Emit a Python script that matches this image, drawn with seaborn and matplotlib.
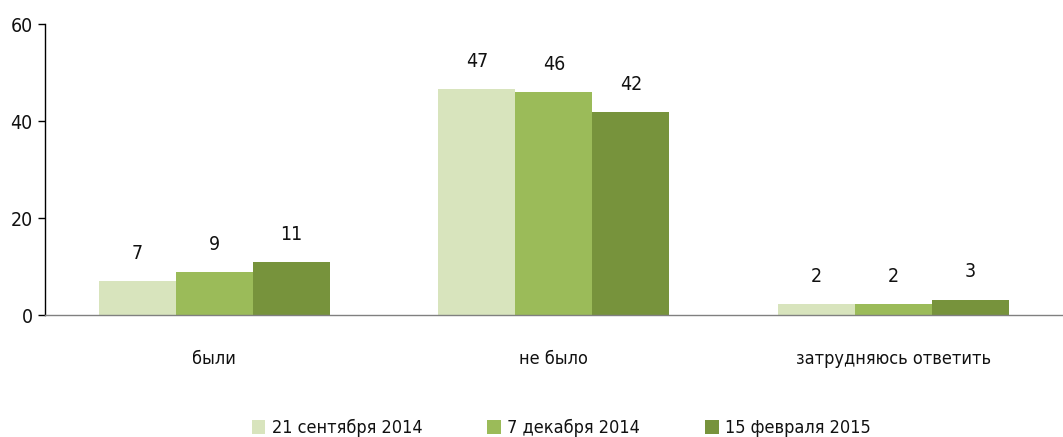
import matplotlib
matplotlib.use("Agg")
import matplotlib.pyplot as plt
import seaborn as sns
import pandas as pd

categories = ["были", "не было", "затрудняюсь ответить"]
series_names = ["21 сентября 2014", "7 декабря 2014", "15 февраля 2015"]
values_sep = [7.0, 46.6, 2.2]
values_dec = [8.9, 46.0, 2.2]
values_feb = [10.9, 41.9, 3.2]
labels_sep = ["7", "47", "2"]
labels_dec = ["9", "46", "2"]
labels_feb = ["11", "42", "3"]
yticks = [0, 20, 40, 60]
colors = ["#d8e4bd", "#9bbb59", "#77933c"]

sns.set_theme(style="white")
plt.rcParams["font.family"] = ["DejaVu Sans"]
plt.rcParams["font.stretch"] = "condensed"

rows = []
for s, vals in zip(series_names, [values_sep, values_dec, values_feb]):
    for c, v in zip(categories, vals):
        rows.append({"cat": c, "series": s, "value": v})
df = pd.DataFrame(rows)

fig = plt.figure(figsize=(10.63, 4.37), dpi=100)
ax = fig.add_axes([0.042, 0.279, 0.958, 0.666])
sns.barplot(data=df, x="cat", y="value", hue="series", palette=colors,
            order=categories, hue_order=series_names, width=0.68,
            saturation=1, linewidth=0, ax=ax, legend=True)

for cont, labs in zip(ax.containers, [labels_sep, labels_dec, labels_feb]):
    ax.bar_label(cont, labels=labs, padding=13, fontsize=14, color="#111111")

ax.set_ylim(0, 60)
ax.set_xlim(-0.5, 2.5)
ax.set_yticks(yticks)
ax.set_yticklabels([str(t) for t in yticks], fontsize=14, color="#111111")
ax.set_xlabel("")
ax.set_ylabel("")
ax.tick_params(axis="x", which="major", length=0, pad=25, labelsize=13, labelcolor="#111111")
ax.set_xticks([-0.5, 0.5, 1.5], minor=True)
ax.tick_params(axis="x", which="minor", length=8, width=1, color="#808080", direction="out")
ax.tick_params(axis="y", which="major", length=5, width=1, color="#000000", direction="out", left=True)
for sp in ["top", "right"]:
    ax.spines[sp].set_visible(False)
ax.spines["left"].set_color("#000000")
ax.spines["bottom"].set_color("#808080")
ax.spines["left"].set_linewidth(1)
ax.spines["bottom"].set_linewidth(1)

leg = ax.legend(loc="center", bbox_to_anchor=(0.528, 0.02), bbox_transform=fig.transFigure,
                ncol=3, frameon=False, fontsize=13, handlelength=0.75, handleheight=0.75,
                handletextpad=0.35, columnspacing=3.6)
for t in leg.get_texts():
    t.set_color("#111111")

fig.savefig("out.png", dpi=100)
